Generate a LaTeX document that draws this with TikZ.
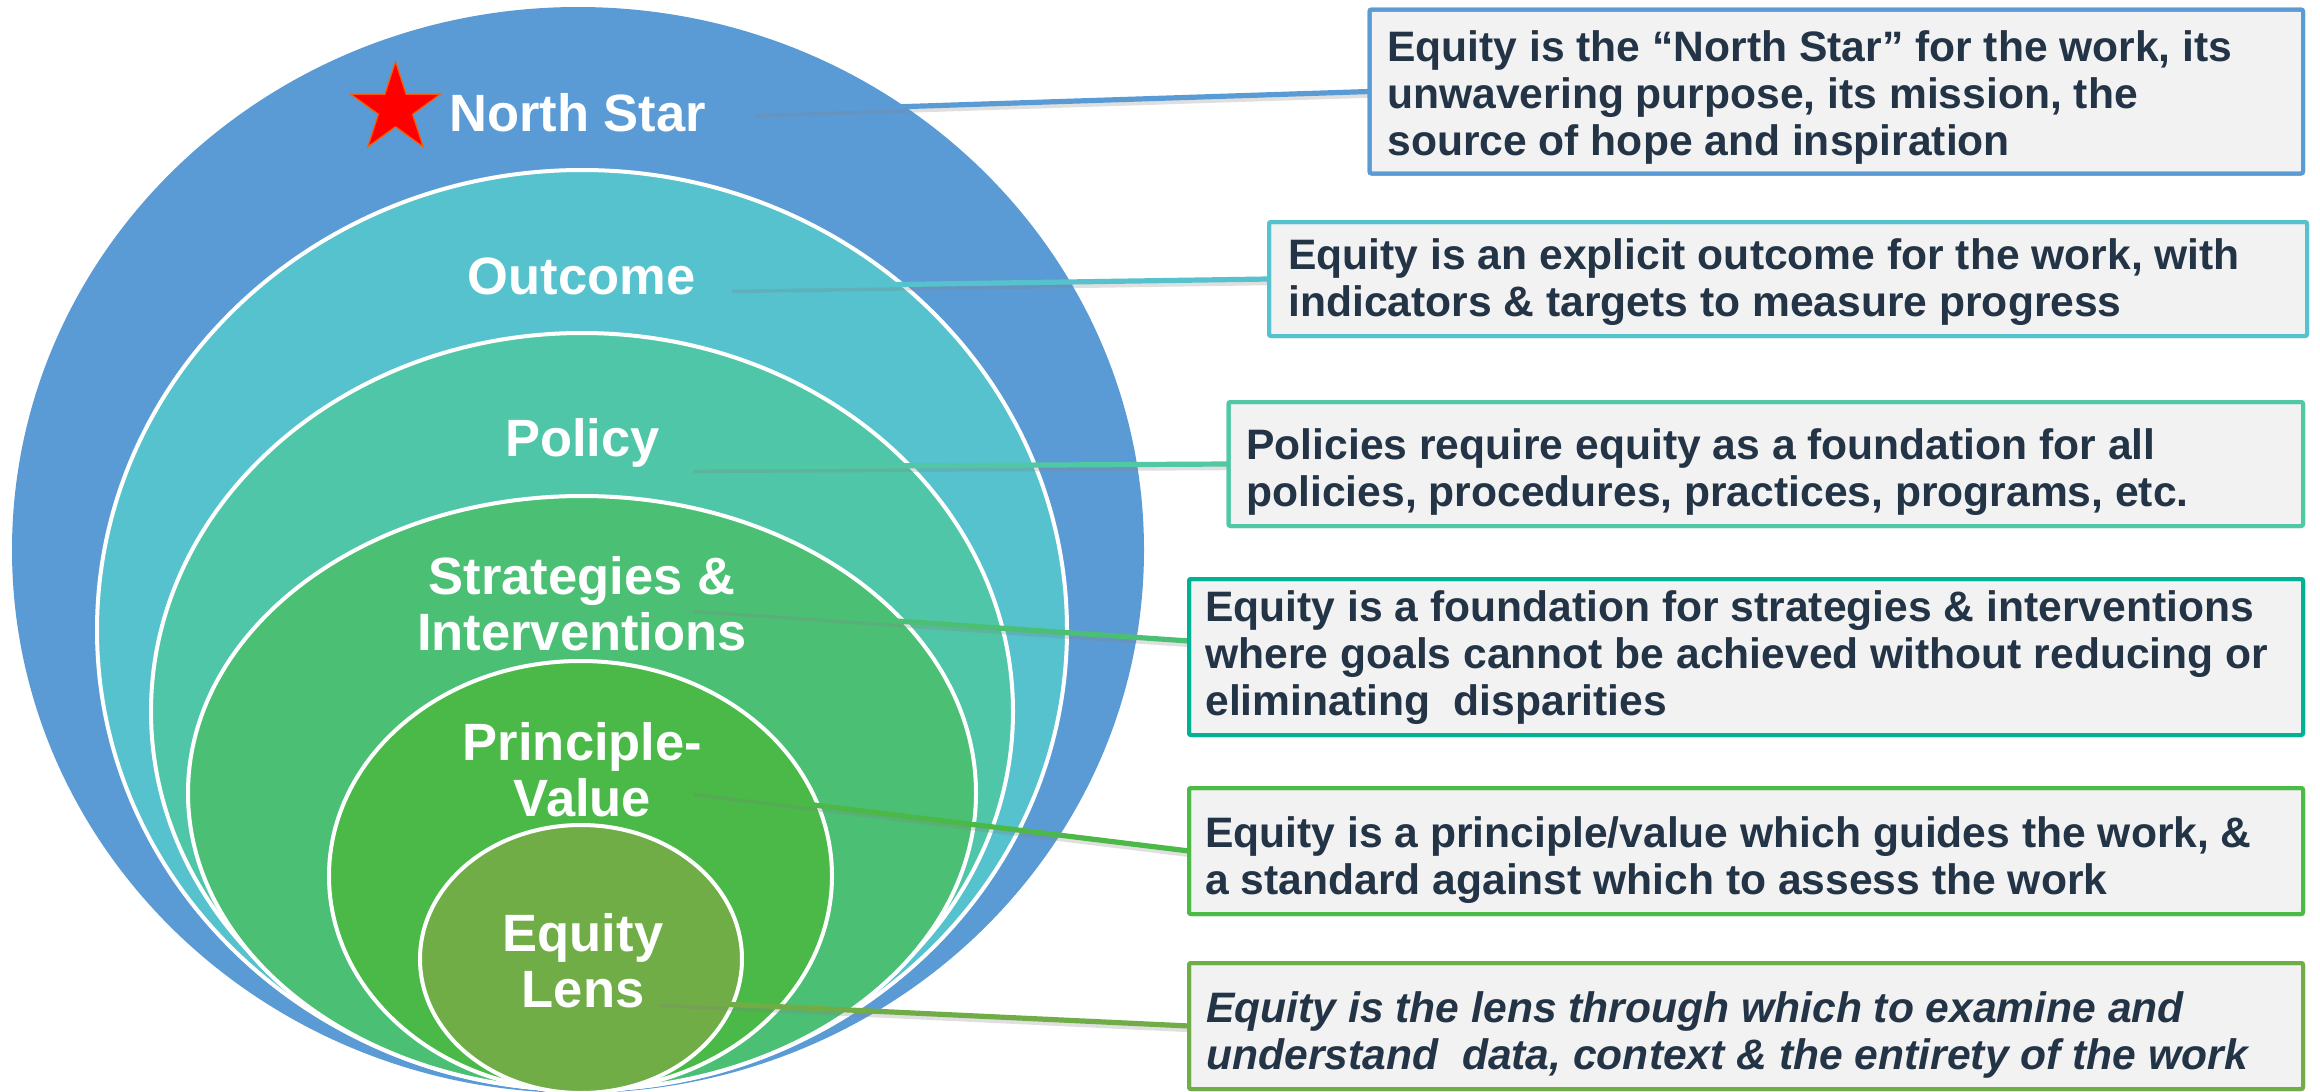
\documentclass[tikz,border=0pt]{standalone}
\usepackage{fontspec}
\setmainfont{Liberation Sans}
\usetikzlibrary{fit,shapes.geometric}
\definecolor{cBlue}{HTML}{5B9BD5}
\definecolor{cOut}{HTML}{55C2CD}
\definecolor{cPol}{HTML}{50C6A8}
\definecolor{cStr}{HTML}{4BC075}
\definecolor{cPri}{HTML}{4AB947}
\definecolor{cLens}{HTML}{70AD47}
\definecolor{cBthree}{HTML}{50C8A6}
\definecolor{cBfour}{HTML}{00B294}
\definecolor{cBfive}{HTML}{4CBB46}
\definecolor{boxfill}{HTML}{F2F2F2}
\definecolor{txt}{HTML}{243447}
\begin{document}
\begin{tikzpicture}[x=0.5pt, y=-0.5pt,
  ring/.style={draw=white, line width=2pt},
  lab/.style={text=white, font=\fontsize{26.25}{28}\selectfont\bfseries, align=center, inner sep=0pt, anchor=base},
  box/.style={draw=#1, fill=boxfill, line width=2pt, inner sep=0pt, outer sep=0pt, rounded corners=1pt},
  desc/.style={text=txt, font=\fontsize{21.3}{23.4}\selectfont\bfseries, align=left, inner sep=0pt, anchor=base west},
  conn/.style={draw=#1, line width=2.6pt},
  shad/.style={draw=black!50, line width=2.6pt, opacity=0.25},
]
\fill[white] (0,0) rectangle (2320,1092);
\useasboundingbox (0,0) rectangle (2320,1092);

% nested ellipses
\fill[cBlue] (578,550) ellipse [x radius=566, y radius=543];
\filldraw[fill=cOut, ring] (582,630) ellipse [x radius=485, y radius=460];
\filldraw[fill=cPol, ring] (582,711.5) ellipse [x radius=431, y radius=378.5];
\filldraw[fill=cStr, ring] (582,793) ellipse [x radius=394, y radius=297];
\filldraw[fill=cPri, ring] (580.5,876) ellipse [x radius=251.5, y radius=215];
\filldraw[fill=cLens, ring] (581,959) ellipse [x radius=161, y radius=134];

% labels (base = baseline of last line)
\node[star, star points=5, star point ratio=2.618, minimum size=47pt, inner sep=0pt, fill=red, draw=orange!70!red, line width=0.6pt] (star) at (395.5,108.7) {};
\node[lab] (lNS) at (577.5,131) {North Star};
\node[lab] (lOut) at (581.5,294) {Outcome};
\node[lab] (lPol) at (582.5,456) {Policy};
\node[lab] (lStr) at (582,650) {Strategies \&\\Interventions};
\node[lab] (lPri) at (582.5,816) {Principle-\\Value};
\node[lab] (lLens) at (583,1007) {Equity\\Lens};

% boxes
\node[box=cBlue, fit={(1369.5,9.5) (2303,173.5)}] (b1) {};
\node[box=cOut, fit={(1269,222) (2307,336)}] (b2) {};
\node[box=cBthree, fit={(1228.5,402) (2303,526)}] (b3) {};
\node[box=cBfour, fit={(1189,579) (2303,735)}] (b4) {};
\node[box=cBfive, fit={(1189,788) (2303,914)}] (b5) {};
\node[box=cLens, fit={(1189,963) (2303,1089)}] (b6) {};

% connectors
\coordinate (s1) at (754,111.5);
\coordinate (s2) at (731,287);
\coordinate (s3) at (692,467);
\coordinate (s4) at (692,607);
\coordinate (s5) at (692,790);
\coordinate (s6) at (658,1001);
\begin{scope}[transform canvas={xshift=0.7pt, yshift=-1.8pt}]
  \draw[shad] (s1) -- (b1.west);
  \draw[shad] (s2) -- (b2.west);
  \draw[shad] (s3) -- (b3.west);
  \draw[shad] (s4) -- ([yshift=8pt]b4.west);
  \draw[shad] (s5) -- (b5.west);
  \draw[shad] (s6) -- (b6.west);
\end{scope}
\draw[conn=cBlue] (s1) -- (b1.west);
\draw[conn=cOut] (s2) -- (b2.west);
\draw[conn=cBthree] (s3) -- (b3.west);
\draw[conn=cStr] (s4) -- ([yshift=8pt]b4.west);
\draw[conn=cPri] (s5) -- (b5.west);
\draw[conn=cLens] (s6) -- (b6.west);
% redraw box borders over line ends
\foreach \b/\c in {b1/cBlue,b2/cOut,b3/cBthree,b4/cBfour,b5/cBfive,b6/cLens}
  \draw[draw=\c, line width=2pt, rounded corners=1pt] (\b.south west) rectangle (\b.north east);

% box texts (base = baseline of last line)
\node[desc] (t1) at (1387,155) {Equity is the “North Star” for the work, its\\unwavering purpose, its mission, the\\source of hope and inspiration};
\node[desc] (t2) at (1288,316) {Equity is an explicit outcome for the work, with\\indicators \& targets to measure progress};
\node[desc] (t3) at (1246,506) {Policies require equity as a foundation for all\\policies, procedures, practices, programs, etc.};
\node[desc] (t4) at (1205,715) {Equity is a foundation for strategies \& interventions\\where goals cannot be achieved without reducing or\\eliminating~~disparities};
\node[desc] (t5) at (1205,894) {Equity is a principle/value which guides the work, \&\\a standard against which to assess the work};
\node[desc, font=\fontsize{21.3}{23.4}\selectfont\bfseries\itshape] (t6) at (1206,1069) {Equity is the lens through which to examine and\\understand~~data, context \& the entirety of the work};
\end{tikzpicture}
\end{document}
